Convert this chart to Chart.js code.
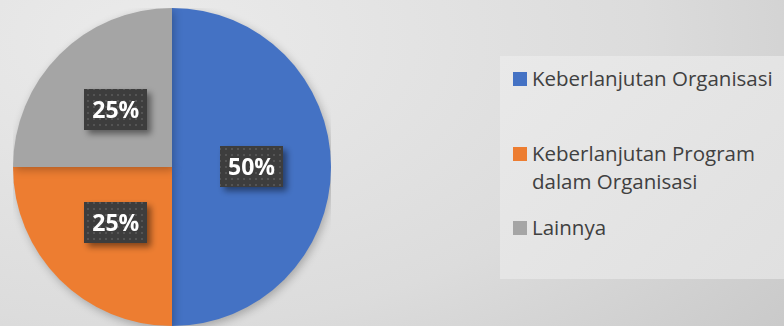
<!DOCTYPE html>
<html>
<head>
<meta charset="utf-8">
<script src="https://cdn.jsdelivr.net/npm/chart.js@4"></script>
<style>
  html, body { margin: 0; padding: 0; }
  body {
    width: 784px; height: 326px; overflow: hidden; position: relative;
    background: radial-gradient(ellipse 900px 520px at 150px 40px, #ebebeb 0%, #dcdcdc 55%, #c4c4c4 100%);
    font-family: "Open Sans", sans-serif;
  }
  #pieWrap { position: absolute; left: 13px; top: 8px; width: 318px; height: 318px; }
  #legend {
    position: absolute; left: 500px; top: 56px; width: 284px; height: 223px;
    background: linear-gradient(135deg, #e9e9e9, #e0e0e0);
  }
  .item { position: absolute; left: 13px; color: #404040; font-size: 20.5px; line-height: 28px; white-space: nowrap; }
  .item .box { position: absolute; left: 0; top: 8px; width: 14px; height: 14px; }
  .item .txt { margin-left: 19px; display: block; }
</style>
</head>
<body>
<div id="pieWrap"><canvas id="pie"></canvas></div>
<div id="legend"></div>
<script>
var kategori = ["Keberlanjutan Organisasi", "Keberlanjutan Program dalam Organisasi", "Lainnya"];
var nilai = [50, 25, 25];
var warna = ["#4472C4", "#ED7D31", "#A5A5A5"];

// legenda (baris kedua dipatah manual)
var legendTeks = [["Keberlanjutan Organisasi"], ["Keberlanjutan Program", "dalam Organisasi"], ["Lainnya"]];
var legendTop = [8, 83, 157];
var legend = document.getElementById("legend");
for (var i = 0; i < kategori.length; i++) {
  var el = document.createElement("div");
  el.className = "item";
  el.style.top = legendTop[i] + "px";
  el.innerHTML = '<span class="box" style="background:' + warna[i] + '"></span><span class="txt">' + legendTeks[i].join("<br>") + "</span>";
  legend.appendChild(el);
}

// pola titik untuk kotak label
function buatPola(ctx) {
  var c = document.createElement("canvas");
  c.width = 6; c.height = 6;
  var p = c.getContext("2d");
  p.fillStyle = "#3d3d3d";
  p.fillRect(0, 0, 6, 6);
  p.fillStyle = "#545454";
  p.fillRect(2, 2, 2, 2);
  return ctx.createPattern(c, "repeat");
}

var labelPlugin = {
  id: "labelPersen",
  beforeDatasetsDraw: function (chart) {
    var ctx = chart.ctx;
    ctx.save();
    ctx.shadowColor = "rgba(0,0,0,0.25)";
    ctx.shadowBlur = 8;
    ctx.shadowOffsetX = 2;
    ctx.shadowOffsetY = 3;
  },
  afterDatasetsDraw: function (chart) {
    var ctx = chart.ctx;
    ctx.restore();
    var meta = chart.getDatasetMeta(0);
    var total = nilai.reduce(function (a, b) { return a + b; }, 0);
    var pola = buatPola(ctx);
    meta.data.forEach(function (arc, i) {
      var pos = arc.tooltipPosition();
      var w = 63, h = 41;
      var x = Math.round(pos.x - w / 2), y = Math.round(pos.y - h / 2) - 1;
      ctx.save();
      ctx.shadowColor = "rgba(0,0,0,0.45)";
      ctx.shadowBlur = 6;
      ctx.shadowOffsetX = 4;
      ctx.shadowOffsetY = 4;
      ctx.fillStyle = pola;
      ctx.fillRect(x, y, w, h);
      ctx.restore();
      ctx.fillStyle = "#ffffff";
      ctx.font = "bold 23px 'Open Sans'";
      ctx.textAlign = "center";
      ctx.textBaseline = "middle";
      ctx.fillText(Math.round(nilai[i] / total * 100) + "%", pos.x, pos.y + 1);
    });
  }
};

new Chart(document.getElementById("pie"), {
  type: "pie",
  data: {
    labels: kategori,
    datasets: [{ data: nilai, backgroundColor: warna, borderWidth: 0 }]
  },
  options: {
    responsive: true,
    maintainAspectRatio: false,
    animation: false,
    layout: { padding: 0 },
    plugins: { legend: { display: false }, tooltip: { enabled: false } }
  },
  plugins: [labelPlugin]
});
</script>
</body>
</html>
